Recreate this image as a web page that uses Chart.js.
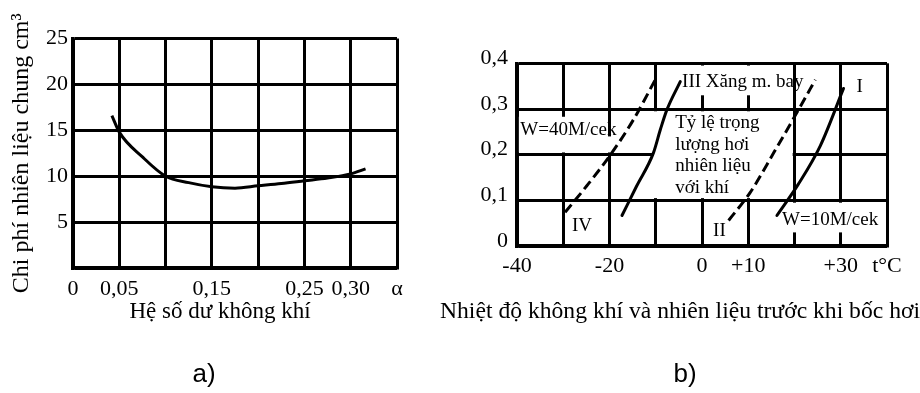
<!DOCTYPE html>
<html><head><meta charset="utf-8">
<script src="https://cdn.jsdelivr.net/npm/chart.js@4"></script>
<style>
html,body{margin:0;padding:0;background:#fff;}
#wrap{position:relative;width:920px;height:393px;overflow:hidden;background:#fff;}
canvas{position:absolute;top:0;}
#ca{left:0;} #cb{left:440px;}
</style></head><body>
<div id="wrap"><canvas id="ca" width="440" height="393"></canvas><canvas id="cb" width="480" height="393"></canvas></div>
<script>
// ---- Chart a) data ----
const alphaX   = [0.042, 0.05, 0.075, 0.10, 0.125, 0.15, 0.175, 0.20, 0.225, 0.25, 0.275, 0.30, 0.316];
const fuelCost = [16.6, 14.8, 12.1, 10.0, 9.3, 8.85, 8.7, 8.95, 9.2, 9.5, 9.8, 10.25, 10.8];
const xTicksA  = [0, 0.05, 0.10, 0.15, 0.20, 0.25, 0.30, 0.35];
const xLabelsA = ['0', '0,05', '', '0,15', '', '0,25', '0,30', 'α'];
const yTicksA  = [0, 5, 10, 15, 20, 25];
const yLabelsA = ['', '5', '10', '15', '20', '25'];

// ---- Chart b) data ----
const tempIV   = [-29.6, -24.9, -19.5, -14.8, -10.1];
const ratioIV  = [0.074, 0.132, 0.204, 0.277, 0.364];
const tempIII  = [-17.3, -14.1, -10.5, -9.0, -7.6, -4.7];
const ratioIII = [0.067, 0.132, 0.204, 0.255, 0.298, 0.36];
const tempII   = [5.75, 10.4, 15.5, 21.3, 24.5];
const ratioII  = [0.056, 0.117, 0.204, 0.306, 0.364];
const tempI    = [16.2, 20.8, 25.6, 30.6];
const ratioI   = [0.067, 0.135, 0.22, 0.345];
const xTicksB  = [-40, -30, -20, -10, 0, 10, 20, 30, 40];
const xLabelsB = ['-40', '', '-20', '', '0', '+10', '', '+30', 't°C'];
const yTicksB  = [0, 0.1, 0.2, 0.3, 0.4];
const yLabelsB = ['0', '0,1', '0,2', '0,3', '0,4'];

const SERIF = '"Liberation Serif", "Times New Roman", serif';
const pts = (xs, ys) => xs.map((v, i) => ({x: v, y: ys[i]}));

const notesPlugin = {
  id: 'notes',
  beforeDatasetsDraw(chart, args, opts) {
    const {ctx} = chart; const x = chart.scales.x, y = chart.scales.y;
    ctx.save();
    ctx.fillStyle = '#fff';
    (opts.rects || []).forEach(r => {
      const x0 = x.getPixelForValue(r[0]), x1 = x.getPixelForValue(r[1]);
      const y0 = y.getPixelForValue(r[3]), y1 = y.getPixelForValue(r[2]);
      ctx.fillRect(x0, y0, x1 - x0, y1 - y0);
    });
    ctx.fillStyle = '#000';
    ctx.font = opts.font || ('19px ' + SERIF);
    ctx.textBaseline = 'middle'; ctx.textAlign = 'left';
    (opts.notes || []).forEach(n => ctx.fillText(n.t, x.getPixelForValue(n.x), y.getPixelForValue(n.y)));
    ctx.restore();
  },
  afterDraw(chart, args, opts) {
    if (!opts.panel) return;
    const {ctx} = chart;
    ctx.save();
    ctx.fillStyle = '#000';
    ctx.font = '26px "Liberation Sans", Arial, sans-serif';
    ctx.textAlign = 'center'; ctx.textBaseline = 'middle';
    ctx.fillText(opts.panel.t, opts.panel.x, opts.panel.y);
    ctx.restore();
  }
};

function axisCommon(ticksArr, labelsArr, fontSize) {
  return {
    type: 'linear',
    min: ticksArr[0], max: ticksArr[ticksArr.length - 1],
    afterBuildTicks: s => { s.ticks = ticksArr.map(v => ({value: v})); },
    grid: {color: '#000', lineWidth: 3, drawTicks: false},
    border: {display: true, color: '#000', width: 3.5},
    ticks: {color: '#000', font: {family: SERIF, size: fontSize}, autoSkip: false, maxRotation: 0,
            callback: (v, i) => labelsArr[i]}
  };
}
// empty right-hand spacer axis that reserves room on the right of the plot
function spacer(w) {
  return {type: 'linear', position: 'right', display: true, grid: {display: false},
          border: {display: false}, ticks: {display: false}, afterFit: s => { s.width = w; }};
}

// ---------- Chart a ----------
const xa = axisCommon(xTicksA, xLabelsA, 22);
xa.ticks.padding = 8;
xa.afterFit = s => { s.height = 30.2; };
const ya = axisCommon(yTicksA, yLabelsA, 22);
ya.ticks.padding = 5;
ya.afterFit = s => { s.width = 73; };
ya.title = {display: true, text: 'Chi phí nhiên liệu chung cm³', color: '#000',
            font: {family: SERIF, size: 24}, padding: {top: 7, bottom: 0}};

new Chart(document.getElementById('ca'), {
  type: 'scatter',
  data: {datasets: [{data: pts(alphaX, fuelCost), showLine: true, borderColor: '#000', borderWidth: 3,
                     pointRadius: 0, cubicInterpolationMode: 'monotone', fill: false, yAxisID: 'y'}]},
  options: {
    responsive: false, animation: false, devicePixelRatio: 1,
    layout: {padding: {left: 0, right: 0, top: 38.5, bottom: 67.2}},
    scales: {x: xa, y: ya, yr: spacer(43)},
    plugins: {
      legend: {display: false}, tooltip: {enabled: false},
      subtitle: {display: true, position: 'bottom', text: 'Hệ số dư không khí', color: '#000',
                 font: {family: SERIF, size: 23, weight: 'normal'}, padding: 0},
      notes: {panel: {t: 'a)', x: 204, y: 375}}
    }
  },
  plugins: [notesPlugin]
});

// ---------- Chart b ----------
const xb = axisCommon(xTicksB, xLabelsB, 22);
xb.ticks.padding = 7;
xb.afterFit = s => { s.height = 50.9; };
const yb = axisCommon(yTicksB, yLabelsB, 22);
yb.ticks.padding = 9;
yb.ticks.labelOffset = -5;
yb.afterFit = s => { s.width = 77; };

const dsStyle = {showLine: true, borderColor: '#000', borderWidth: 3, pointRadius: 0,
                 cubicInterpolationMode: 'monotone', fill: false, borderCapStyle: 'round', yAxisID: 'y'};
new Chart(document.getElementById('cb'), {
  type: 'scatter',
  data: {datasets: [
    Object.assign({label: 'IV', data: pts(tempIV, ratioIV), borderDash: [10, 5]}, dsStyle, {borderCapStyle: 'butt'}),
    Object.assign({label: 'III', data: pts(tempIII, ratioIII)}, dsStyle),
    Object.assign({label: 'II', data: pts(tempII, ratioII), borderDash: [10, 5]}, dsStyle, {borderCapStyle: 'butt'}),
    Object.assign({label: 'I', data: pts(tempI, ratioI)}, dsStyle)
  ]},
  options: {
    responsive: false, animation: false, devicePixelRatio: 1,
    layout: {padding: {left: 0, right: 0, top: 63.3, bottom: 67.2}},
    scales: {x: xb, y: yb, yr: spacer(33)},
    plugins: {
      legend: {display: false}, tooltip: {enabled: false},
      subtitle: {display: true, position: 'bottom', text: 'Nhiệt độ không khí và nhiên liệu trước khi bốc hơi', color: '#000',
                 font: {family: SERIF, size: 24, weight: 'normal'}, padding: 0},
      notes: {
        font: '19px ' + SERIF,
        rects: [
          [-10.4, 19.6, 0.105, 0.295],
          [-9.6, 19.6, 0.33, 0.395],
          [-39.6, -25, 0.205, 0.283],
          [-25, -18.5, 0.205, 0.24],
          [10.5, 39.6, 0.03, 0.095]
        ],
        notes: [
          {t: 'III Xăng m. bay', x: -4.3, y: 0.36},
          {t: 'I', x: 33.4, y: 0.349},
          {t: 'W=40M/cek', x: -39.3, y: 0.255},
          {t: 'Tỷ lệ trọng', x: -5.8, y: 0.269},
          {t: 'lượng hơi', x: -5.8, y: 0.222},
          {t: 'nhiên liệu', x: -5.8, y: 0.175},
          {t: 'với khí', x: -5.8, y: 0.128},
          {t: 'IV', x: -28.1, y: 0.045},
          {t: 'II', x: 2.4, y: 0.034},
          {t: 'W=10M/cek', x: 17.3, y: 0.056}
        ],
        panel: {t: 'b)', x: 245, y: 375}
      }
    }
  },
  plugins: [notesPlugin]
});
</script>
</body></html>
